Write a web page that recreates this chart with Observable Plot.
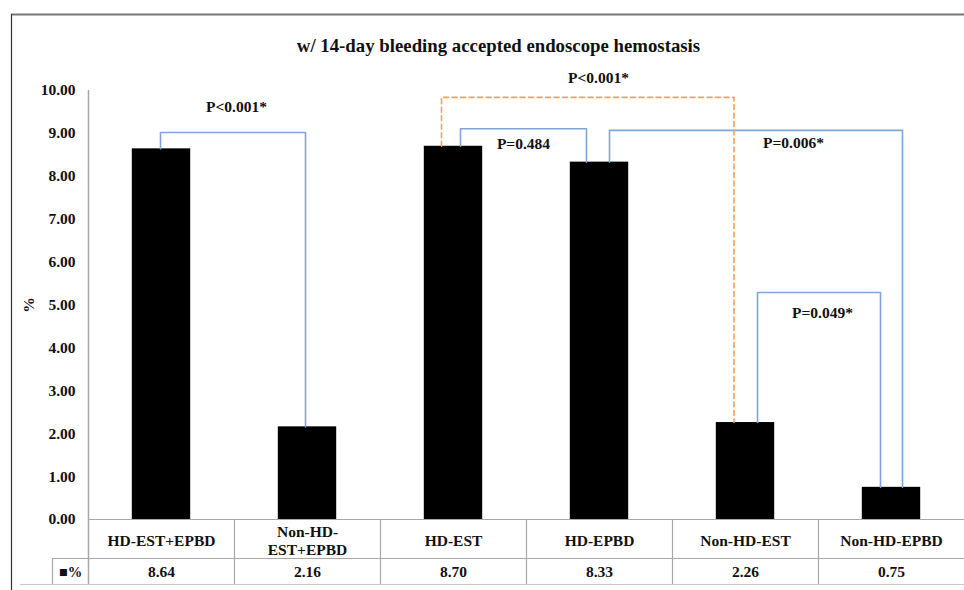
<!DOCTYPE html>
<html><head><meta charset="utf-8">
<script src="https://cdn.jsdelivr.net/npm/d3@7"></script>
<script src="https://cdn.jsdelivr.net/npm/@observablehq/plot@0.6"></script>
<style>
body{margin:0;background:#fff}
#chart svg text, #chart svg tspan { font-family: "Liberation Serif", "Times New Roman", serif !important; }
</style>
</head><body><div id="chart"></div>
<script>
// ---- data ----
const title = "w/ 14-day bleeding accepted endoscope hemostasis";
const categories = ["HD-EST+EPBD", "Non-HD-\nEST+EPBD", "HD-EST", "HD-EPBD", "Non-HD-EST", "Non-HD-EPBD"];
const values = [8.64, 2.16, 8.70, 8.33, 2.26, 0.75];
const valueLabels = ["8.64", "2.16", "8.70", "8.33", "2.26", "0.75"];
const yTicks = [0, 1, 2, 3, 4, 5, 6, 7, 8, 9, 10];
const seriesLabel = "■%";
const yLabel = "%";
const comparisonFrom = [0, 2, 3, 4, 2];
const comparisonTo = [1, 3, 5, 5, 4];
const comparisonLevel = [9.02, 9.11, 9.07, 5.29, 9.84];
const comparisonP = ["P<0.001*", "P=0.484", "P=0.006*", "P=0.049*", "P<0.001*"];
const comparisonDashed = [false, false, false, false, true];

// ---- layout (pixels) ----
const W = 964, H = 590, ML = 88, MR = 0, MT = 90, MB = 71;
const pxX = (W - ML - MR) / categories.length;
const pxY = (H - MT - MB) / 10;
const legDx = [[-1, -2], [7, -13], [10, 11], [12, -11], [-12, -11.5]];
const labelOff = [[2, -26], [-3, 15], [48, 13], [4, 20], [-1, -19]];
const ux = px => px / pxX;
const uy = px => px / pxY;
const xAt = px => -0.5 + ux(px - ML);
const yAt = px => uy(H - MB - px);

const bars = categories.map((c, i) => ({i, c, v: values[i], label: valueLabels[i]}));

const bracketPts = [], bracketLbl = [];
comparisonFrom.forEach((a, k) => {
  const b = comparisonTo[k];
  const xa = a + ux(legDx[k][0]), xb = b + ux(legDx[k][1]);
  const L = comparisonLevel[k];
  const dash = comparisonDashed[k];
  [[xa, values[a]], [xa, L], [xb, L], [xb, values[b]]].forEach(([x, y]) => bracketPts.push({k, x, y, dash}));
  bracketLbl.push({x: (a + b) / 2 + ux(labelOff[k][0]), y: L - uy(labelOff[k][1]), text: comparisonP[k]});
});

const row1Bottom = yAt(558), row2Bottom = yAt(584);
const font = "Liberation Serif";
const ink = "#111";
const grid = "#a8a8a8";
const T = {fontFamily: font, fontWeight: "bold", fill: ink};

const chart = Plot.plot({
  width: W, height: H,
  marginLeft: ML, marginRight: MR, marginTop: MT, marginBottom: MB,
  style: {background: "#fff", overflow: "visible"},
  x: {type: "linear", domain: [-0.5, categories.length - 0.5], axis: null},
  y: {domain: [0, 10]},
  marks: [
    // outer frame
    Plot.ruleY([yAt(14)], {x1: xAt(11), x2: categories.length - 0.5, stroke: "#777", strokeWidth: 2}),
    Plot.ruleX([xAt(11)], {y1: yAt(H), y2: yAt(14), stroke: "#333", strokeWidth: 1.2}),
    // table lines
    Plot.ruleY([0], {x1: -0.5, x2: categories.length - 0.5, stroke: grid, strokeWidth: 1.2}),
    Plot.ruleY([row1Bottom], {x1: xAt(52), x2: categories.length - 0.5, stroke: grid, strokeWidth: 1.2}),
    Plot.ruleY([row2Bottom], {x1: xAt(20), x2: categories.length - 0.5, stroke: "#c8c8c8", strokeWidth: 1.2}),
    Plot.ruleX([xAt(52)], {y1: row1Bottom, y2: row2Bottom, stroke: grid, strokeWidth: 1.2}),
    Plot.ruleX(d3.range(1, categories.length), {x: d => d - 0.5, y1: row2Bottom, y2: 0, stroke: grid, strokeWidth: 1.2}),
    Plot.ruleX([-0.5], {y1: row2Bottom, y2: 10, stroke: grid, strokeWidth: 1.5}),
    // y axis
    Plot.axisY(yTicks, {tickSize: 0, tickPadding: 13, tickFormat: d => d.toFixed(2), fontSize: 15.5, ...T, label: null}),
    Plot.text([yLabel], {x: xAt(29), y: 5, text: d => d, rotate: -90, fontSize: 15.5, ...T}),
    // bars
    Plot.rectY(bars, {x1: d => d.i - 0.2, x2: d => d.i + 0.2, y: "v", fill: "#000"}),
    // brackets
    Plot.line(bracketPts.filter(d => !d.dash), {x: "x", y: "y", z: "k", stroke: "#7fa6d6", strokeWidth: 1.6, curve: "linear"}),
    Plot.line(bracketPts.filter(d => d.dash), {x: "x", y: "y", z: "k", stroke: "#f2a05a", strokeWidth: 1.6, strokeDasharray: "5,3.5", curve: "linear"}),
    Plot.text(bracketLbl, {x: "x", y: "y", text: "text", fontSize: 15.5, ...T}),
    // table text
    Plot.text(bars, {x: "i", y: yAt(540), text: "c", fontSize: 15.5, ...T, lineHeight: 1.15}),
    Plot.text(bars, {x: "i", y: yAt(572), text: "label", fontSize: 15.5, ...T}),
    Plot.text([seriesLabel], {x: xAt(70), y: yAt(572), text: d => d, fontSize: 14.5, ...T}),
    // title
    Plot.text([title], {x: xAt(498), y: yAt(45), text: d => d, fontSize: 18.8, ...T})
  ]
});
document.getElementById("chart").append(chart);
</script>
</body></html>
